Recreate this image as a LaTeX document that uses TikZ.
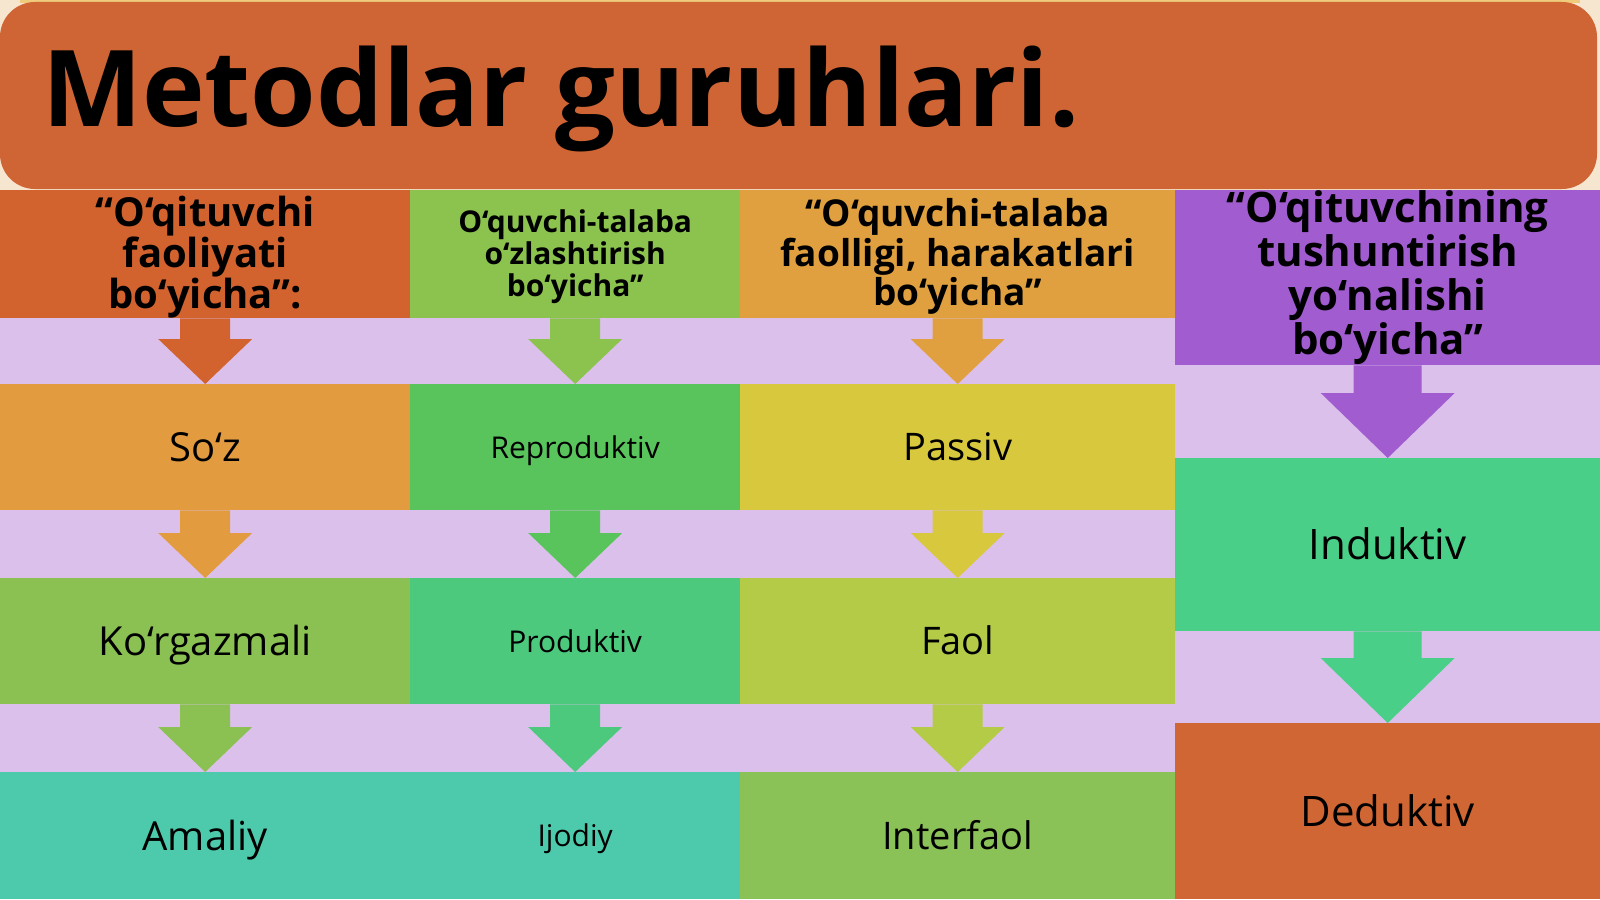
\documentclass[tikz,border=0pt]{standalone}
\usepackage{fontspec}
\setmainfont{Open Sans}
\usetikzlibrary{calc}
\definecolor{bgbeige}{HTML}{F7E6CF}
\definecolor{topgold}{HTML}{EFCB7C}
\definecolor{lav}{HTML}{DCC0EC}
\definecolor{titleor}{HTML}{CF6434}
\definecolor{hone}{HTML}{D2622E}
\definecolor{soz}{HTML}{E29C3F}
\definecolor{korg}{HTML}{8BC153}
\definecolor{teal}{HTML}{4DCAAC}
\definecolor{htwo}{HTML}{8CC34F}
\definecolor{repro}{HTML}{58C45B}
\definecolor{produ}{HTML}{4CC97C}
\definecolor{hthree}{HTML}{E0A03F}
\definecolor{passv}{HTML}{D8C83E}
\definecolor{faol}{HTML}{B3CB47}
\definecolor{inter}{HTML}{8BC257}
\definecolor{purp}{HTML}{A15CCF}
\definecolor{induk}{HTML}{49CF88}
\definecolor{deduk}{HTML}{CF6633}
\pgfdeclarelayer{bglayer}
\pgfdeclarelayer{arrlayer}
\pgfsetlayers{bglayer,arrlayer,main}
\newcommand\blockarr[6]{%
  \fill[#3] let \p1=(#1.south), \p2=(#2.north) in
    (\x1-#4,\y1) -- (\x1+#4,\y1) -- (\x1+#4,\y2+#6) -- (\x1+#5,\y2+#6)
    -- (\x1,\y2) -- (\x1-#5,\y2+#6) -- (\x1-#4,\y2+#6) -- cycle;}
\newcommand\hstrut{\rule{0pt}{0.9em}}
\begin{document}
\begin{tikzpicture}[x=1pt,y=-1pt,
  box/.style={rectangle, inner sep=0pt, anchor=north west, text=black},
  head/.style={box, align=center},
  hbig/.style={head, font=\fontsize{40}{41}\selectfont\bfseries},
  hsmall/.style={head, font=\fontsize{30}{32}\selectfont\bfseries},
  hmid/.style={head, font=\fontsize{37}{39.5}\selectfont\bfseries},
  hfour/.style={head, font=\fontsize{42}{44}\selectfont\bfseries},
  bodytext/.style={box, text depth=0pt},
  body/.style={bodytext, text height=27.4pt, font=\fontsize{38}{44}\selectfont},
  bodyone/.style={bodytext, text height=28.8pt, font=\fontsize{40}{46}\selectfont},
  bodysmall/.style={bodytext, text height=21.6pt, font=\fontsize{30}{35}\selectfont},
  bodyfour/.style={bodytext, text height=30.2pt, font=\fontsize{42}{48}\selectfont}]
\useasboundingbox (0,0) rectangle (1600,899);
\begin{pgfonlayer}{bglayer}
\fill[bgbeige] (0,0) rectangle (1600,899);
\fill[topgold] (20,0) rectangle (1580,3);
\fill[lav] (0,318) rectangle (1600,899);
\fill[titleor, rounded corners=35pt] (0,2) rectangle (1597,189);
\end{pgfonlayer}
\node[anchor=base west, font=\fontsize{106}{120}\selectfont\bfseries, inner sep=0pt] (title) at (42,126) {Metodlar guruhlari.};
% headers
\node[hbig, fill=hone, minimum width=410pt, minimum height=128pt] (h1) at (0,190) {\hstrut“O‘qituvchi\\faoliyati\\bo‘yicha”:};
\node[hsmall, fill=htwo, minimum width=330pt, minimum height=128pt] (h2) at (410,190) {\hstrut O‘quvchi-talaba\\o‘zlashtirish\\bo‘yicha”};
\node[hmid, fill=hthree, minimum width=435pt, minimum height=128pt] (h3) at (740,190) {\hstrut“O‘quvchi-talaba\\faolligi, harakatlari\\bo‘yicha”};
\node[hfour, fill=purp, minimum width=425pt, minimum height=175pt] (h4) at (1175,190) {“O‘qituvchining\\tushuntirish\\yo‘nalishi\\bo‘yicha”};
% column 1
\node[bodyone, fill=soz, minimum width=410pt, minimum height=126pt] (a1) at (0,384) {So‘z};
\node[bodyone, fill=korg, minimum width=410pt, minimum height=126pt] (a2) at (0,578) {Ko‘rgazmali};
\node[bodyone, fill=teal, minimum width=410pt, minimum height=127pt] (a3) at (0,772) {Amaliy};
% column 2
\node[bodysmall, fill=repro, minimum width=330pt, minimum height=126pt] (b1) at (410,384) {Reproduktiv};
\node[bodysmall, fill=produ, minimum width=330pt, minimum height=126pt] (b2) at (410,578) {Produktiv};
\node[bodysmall, fill=teal, minimum width=330pt, minimum height=127pt] (b3) at (410,772) {Ijodiy};
% column 3
\node[body, fill=passv, minimum width=435pt, minimum height=126pt] (c1) at (740,384) {Passiv};
\node[body, fill=faol, minimum width=435pt, minimum height=126pt] (c2) at (740,578) {Faol};
\node[body, fill=inter, minimum width=435pt, minimum height=127pt] (c3) at (740,772) {Interfaol};
% column 4
\node[bodyfour, fill=induk, minimum width=425pt, minimum height=173pt] (d1) at (1175,458) {Induktiv};
\node[bodyfour, fill=deduk, minimum width=425pt, minimum height=176pt] (d2) at (1175,723) {Deduktiv};
% arrows
\begin{pgfonlayer}{arrlayer}
\blockarr{h1}{a1}{hone}{25pt}{47pt}{45pt}
\blockarr{a1}{a2}{soz}{25pt}{47pt}{45pt}
\blockarr{a2}{a3}{korg}{25pt}{47pt}{45pt}
\blockarr{h2}{b1}{htwo}{25pt}{47pt}{45pt}
\blockarr{b1}{b2}{repro}{25pt}{47pt}{45pt}
\blockarr{b2}{b3}{produ}{25pt}{47pt}{45pt}
\blockarr{h3}{c1}{hthree}{25pt}{47pt}{45pt}
\blockarr{c1}{c2}{passv}{25pt}{47pt}{45pt}
\blockarr{c2}{c3}{faol}{25pt}{47pt}{45pt}
\blockarr{h4}{d1}{purp}{34pt}{67pt}{65pt}
\blockarr{d1}{d2}{induk}{34pt}{67pt}{65pt}
\end{pgfonlayer}
\end{tikzpicture}
\end{document}
